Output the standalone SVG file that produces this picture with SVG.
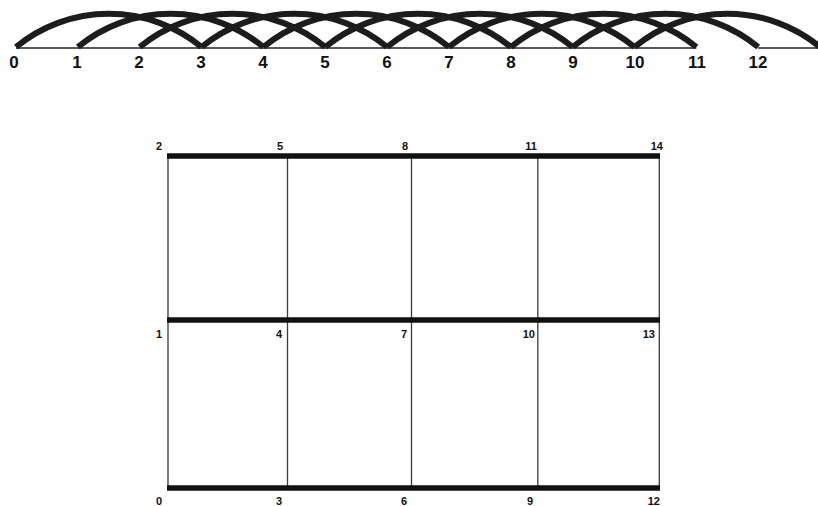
<svg xmlns="http://www.w3.org/2000/svg" width="818" height="506" viewBox="0 0 818 506">
<style>
.arc{fill:none;stroke:#1c1c1c;stroke-width:6}
.base{stroke:#222;stroke-width:1.3}
.lbl{font-family:"Liberation Sans",Arial,sans-serif;font-weight:bold;fill:#111}
.tl{font-size:17px;text-anchor:middle}
.gl{font-size:11px;text-anchor:end}
.thick{stroke:#111;stroke-width:5.5}
.vert{stroke:#3a3a3a;stroke-width:1.3}
</style>
<rect width="818" height="506" fill="#fff"/>
<g id="connectors">
<line class="base" x1="16" y1="48" x2="696.4" y2="48"/>
<line class="base" x1="758.2" y1="48" x2="818" y2="48"/>
<path class="arc" d="M16 47 A146 146 0 0 1 201.6 47"/>
<path class="arc" d="M77.9 47 A146 146 0 0 1 263.4 47"/>
<path class="arc" d="M139.7 47 A146 146 0 0 1 325.3 47"/>
<path class="arc" d="M201.6 47 A146 146 0 0 1 387.1 47"/>
<path class="arc" d="M263.4 47 A146 146 0 0 1 449 47"/>
<path class="arc" d="M325.3 47 A146 146 0 0 1 510.8 47"/>
<path class="arc" d="M387.1 47 A146 146 0 0 1 572.7 47"/>
<path class="arc" d="M449 47 A146 146 0 0 1 634.5 47"/>
<path class="arc" d="M510.8 47 A146 146 0 0 1 696.4 47"/>
<path class="arc" d="M572.7 47 A146 146 0 0 1 758.2 47"/>
<path class="arc" d="M634.5 47 A146 146 0 0 1 820.1 47"/>
</g>
<g id="top-labels" class="lbl tl">
<text x="14" y="68">0</text>
<text x="77" y="68">1</text>
<text x="139" y="68">2</text>
<text x="201" y="68">3</text>
<text x="263" y="68">4</text>
<text x="325" y="68">5</text>
<text x="387" y="68">6</text>
<text x="449" y="68">7</text>
<text x="511" y="68">8</text>
<text x="573" y="68">9</text>
<text x="635" y="68">10</text>
<text x="697" y="68">11</text>
<text x="758" y="68">12</text>
</g>
<g id="grid">
<line class="vert" x1="168" y1="156" x2="168" y2="488"/>
<line class="vert" x1="287.5" y1="156" x2="287.5" y2="488"/>
<line class="vert" x1="411.5" y1="156" x2="411.5" y2="488"/>
<line class="vert" x1="537.8" y1="156" x2="537.8" y2="488"/>
<line class="vert" x1="659.3" y1="156" x2="659.3" y2="488"/>
<line class="thick" x1="167" y1="156" x2="660" y2="156"/>
<line class="thick" x1="167" y1="320" x2="660" y2="320"/>
<line class="thick" x1="167" y1="488" x2="660" y2="488"/>
</g>
<g id="grid-labels" class="lbl gl">
<text x="162" y="150">2</text>
<text x="283" y="150">5</text>
<text x="408" y="150">8</text>
<text x="537" y="150">11</text>
<text x="663" y="150">14</text>
<text x="162" y="338">1</text>
<text x="282" y="338">4</text>
<text x="407" y="338">7</text>
<text x="535" y="338">10</text>
<text x="655" y="338">13</text>
<text x="162" y="505">0</text>
<text x="282" y="505">3</text>
<text x="407" y="505">6</text>
<text x="533" y="505">9</text>
<text x="660" y="505">12</text>
</g>
</svg>
